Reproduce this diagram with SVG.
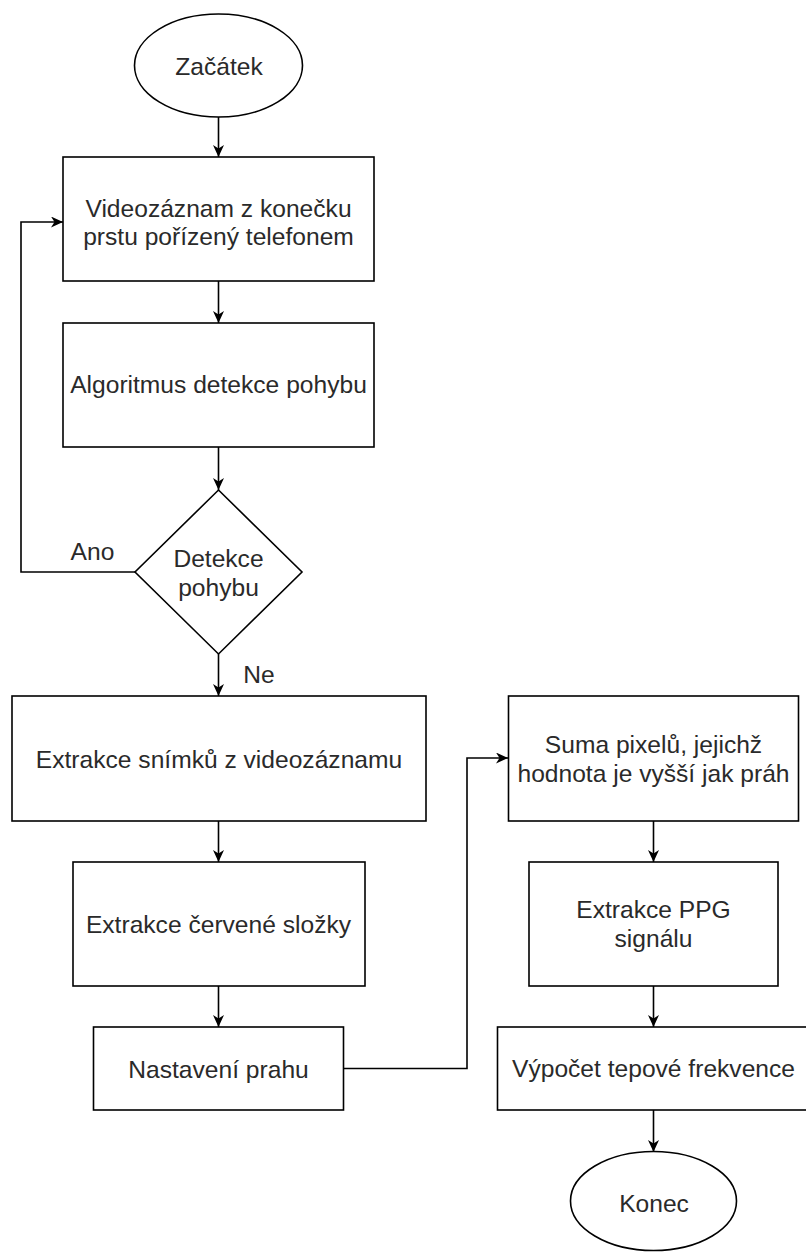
<svg xmlns="http://www.w3.org/2000/svg" width="806" height="1252" viewBox="0 0 806 1252">
<style>
.shape{fill:#fff;stroke:#000;stroke-width:1.6}
.conn{fill:none;stroke:#000;stroke-width:1.6}
.t{font-family:"Liberation Sans",Arial,sans-serif;font-size:24.6px;fill:#2a2a2a;text-anchor:middle}
</style>
<defs>
<marker id="arr" viewBox="0 0 12 11" refX="12" refY="5.5" markerWidth="12" markerHeight="11" markerUnits="userSpaceOnUse" orient="auto">
<path d="M0,0 L12,5.5 L0,11 L3.5,5.5 z" fill="#000"/>
</marker>
</defs>
<rect width="806" height="1252" fill="#fff"/>
<g id="connectors">
<path class="conn" marker-end="url(#arr)" d="M218.5,117 L218.5,157"/>
<path class="conn" marker-end="url(#arr)" d="M218.5,281 L218.5,323"/>
<path class="conn" marker-end="url(#arr)" d="M218.5,447 L218.5,490"/>
<path class="conn" marker-end="url(#arr)" d="M135,572 L21,572 L21,222 L63,222"/>
<path class="conn" marker-end="url(#arr)" d="M218.5,654 L218.5,696"/>
<path class="conn" marker-end="url(#arr)" d="M218.5,821 L218.5,862"/>
<path class="conn" marker-end="url(#arr)" d="M218.5,986 L218.5,1027"/>
<path class="conn" marker-end="url(#arr)" d="M343,1068.5 L467,1068.5 L467,758 L508,758"/>
<path class="conn" marker-end="url(#arr)" d="M653.5,821 L653.5,862"/>
<path class="conn" marker-end="url(#arr)" d="M653.5,986 L653.5,1027"/>
<path class="conn" marker-end="url(#arr)" d="M653.5,1110 L653.5,1152"/>
<text class="t" x="92.5" y="560">Ano</text>
<text class="t" x="259" y="683">Ne</text>
</g>
<g id="start">
<ellipse class="shape" cx="218.5" cy="65.5" rx="84" ry="51.5"/>
<text class="t" x="219" y="75">Začátek</text>
</g>
<g id="video">
<rect class="shape" x="63" y="157" width="311" height="124"/>
<text class="t" x="218.5" y="216.5">Videozáznam z konečku</text>
<text class="t" x="218.5" y="245">prstu pořízený telefonem</text>
</g>
<g id="algoritmus">
<rect class="shape" x="63" y="323" width="311" height="124"/>
<text class="t" x="218.5" y="393">Algoritmus detekce pohybu</text>
</g>
<g id="detekce">
<polygon class="shape" points="218.5,490 302,572 218.5,654 135,572"/>
<text class="t" x="218.5" y="566.5">Detekce</text>
<text class="t" x="218.5" y="596">pohybu</text>
</g>
<g id="extrakce-snimku">
<rect class="shape" x="12" y="696" width="414" height="125"/>
<text class="t" x="219" y="768">Extrakce snímků z videozáznamu</text>
</g>
<g id="cervena">
<rect class="shape" x="73" y="862" width="292" height="124"/>
<text class="t" x="218.5" y="933">Extrakce červené složky</text>
</g>
<g id="prah">
<rect class="shape" x="93.5" y="1027" width="250" height="83"/>
<text class="t" x="218.5" y="1078">Nastavení prahu</text>
</g>
<g id="suma">
<rect class="shape" x="508.5" y="696" width="290" height="125"/>
<text class="t" x="653.5" y="752.5">Suma pixelů, jejichž</text>
<text class="t" x="653.5" y="781.5">hodnota je vyšší jak práh</text>
</g>
<g id="ppg">
<rect class="shape" x="529" y="862" width="249" height="124"/>
<text class="t" x="653.5" y="918">Extrakce PPG</text>
<text class="t" x="653.5" y="946.5">signálu</text>
</g>
<g id="tep">
<rect class="shape" x="497.5" y="1027" width="312" height="83"/>
<text class="t" x="653.5" y="1077">Výpočet tepové frekvence</text>
</g>
<g id="konec">
<ellipse class="shape" cx="653.5" cy="1201" rx="83" ry="49.5"/>
<text class="t" x="654" y="1211.5">Konec</text>
</g>
</svg>
